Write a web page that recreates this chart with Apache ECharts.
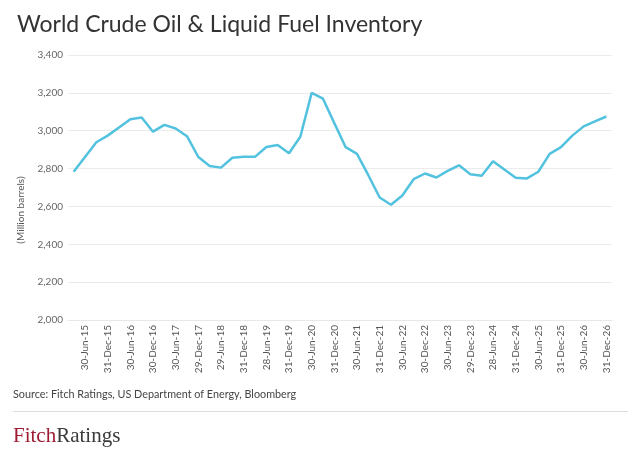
<!DOCTYPE html>
<html>
<head>
<meta charset="utf-8">
<script src="https://cdn.jsdelivr.net/npm/echarts@6/dist/echarts.min.js"></script>
<style>
html,body{margin:0;padding:0;background:#fff;}
#chart{width:641px;height:456px;}
</style>
</head>
<body>
<div id="chart"></div>
<script>
const categories = [
  '31-Mar-15','30-Jun-15','30-Sep-15','31-Dec-15',
  '31-Mar-16','30-Jun-16','30-Sep-16','30-Dec-16',
  '31-Mar-17','30-Jun-17','29-Sep-17','29-Dec-17',
  '30-Mar-18','29-Jun-18','28-Sep-18','31-Dec-18',
  '29-Mar-19','28-Jun-19','30-Sep-19','31-Dec-19',
  '31-Mar-20','30-Jun-20','30-Sep-20','31-Dec-20',
  '31-Mar-21','30-Jun-21','30-Sep-21','31-Dec-21',
  '31-Mar-22','30-Jun-22','30-Sep-22','30-Dec-22',
  '31-Mar-23','30-Jun-23','29-Sep-23','29-Dec-23',
  '29-Mar-24','28-Jun-24','30-Sep-24','31-Dec-24',
  '31-Mar-25','30-Jun-25','30-Sep-25','31-Dec-25',
  '31-Mar-26','30-Jun-26','30-Sep-26','31-Dec-26'
];
const inventory = [
  2783, 2861, 2939, 2974,
  3017, 3061, 3070, 2995,
  3031, 3012, 2971, 2861,
  2814, 2805, 2857, 2862,
  2862, 2914, 2924, 2881,
  2968, 3200, 3169, 3040,
  2913, 2878, 2765, 2647,
  2609, 2658, 2744, 2774,
  2753, 2788, 2817, 2770,
  2762, 2839, 2795, 2752,
  2748, 2783, 2878, 2913,
  2974, 3023, 3049, 3075
];
const yTicks = [2000, 2200, 2400, 2600, 2800, 3000, 3200, 3400];
const titleText = 'World Crude Oil & Liquid Fuel Inventory';
const yAxisName = '(Million barrels)';
const sourceText = 'Source: Fitch Ratings, US Department of Energy, Bloomberg';

const chart = echarts.init(document.getElementById('chart'), null, {renderer: 'canvas'});
chart.setOption({
  backgroundColor: '#ffffff',
  animation: false,
  textStyle: {fontFamily: 'Lato'},
  title: {
    text: titleText,
    left: 12,
    top: 8,
    textStyle: {fontFamily: 'Lato', fontSize: 23, fontWeight: 'normal', color: '#333333'}
  },
  grid: {left: 68, right: 29, top: 55, bottom: 136, containLabel: false},
  xAxis: {
    type: 'category',
    data: categories,
    boundaryGap: true,
    axisTick: {show: false},
    axisLine: {show: true, lineStyle: {color: '#e8e8e8', width: 1}},
    axisLabel: {
      rotate: 90,
      margin: 5,
      fontSize: 10,
      color: '#555555',
      fontFamily: 'Lato',
      interval: function (index) { return index % 2 === 1; }
    },
    splitLine: {show: false}
  },
  yAxis: {
    type: 'value',
    min: yTicks[0],
    max: yTicks[yTicks.length - 1],
    interval: 200,
    axisLine: {show: false},
    axisTick: {show: false},
    axisLabel: {
      margin: 5,
      fontSize: 10,
      color: '#666666',
      fontFamily: 'Lato',
      padding: [0, 0, 8, 0],
      formatter: function (v) { return v.toLocaleString('en-US'); }
    },
    splitLine: {show: true, lineStyle: {color: '#ebebeb', width: 1}}
  },
  series: [{
    type: 'line',
    data: inventory,
    symbol: 'none',
    smooth: false,
    lineStyle: {color: '#52c2df', width: 2.5},
    itemStyle: {color: '#52c2df'}
  }],
  graphic: [
    {
      type: 'text',
      x: 21, y: 210,
      rotation: Math.PI / 2,
      style: {
        text: yAxisName,
        fontFamily: 'Lato',
        fontSize: 10,
        fill: '#555555',
        align: 'center',
        verticalAlign: 'middle'
      }
    },
    {
      type: 'text',
      x: 13, y: 395,
      style: {
        text: sourceText,
        fontFamily: 'Lato',
        fontSize: 10.8,
        fill: '#444444',
        align: 'left',
        verticalAlign: 'middle'
      }
    },
    {
      type: 'line',
      shape: {x1: 13, y1: 411.5, x2: 628, y2: 411.5},
      style: {stroke: '#dddddd', lineWidth: 1}
    },
    {
      type: 'text',
      x: 13, y: 436,
      style: {
        text: '{f|Fitch}{r|Ratings}',
        verticalAlign: 'middle',
        align: 'left',
        rich: {
          f: {fontFamily: 'Liberation Serif', fontSize: 21, fill: '#9e1b32', color: '#9e1b32'},
          r: {fontFamily: 'Liberation Serif', fontSize: 21, fill: '#3a3a3a', color: '#3a3a3a'}
        }
      }
    }
  ]
});
</script>
</body>
</html>
